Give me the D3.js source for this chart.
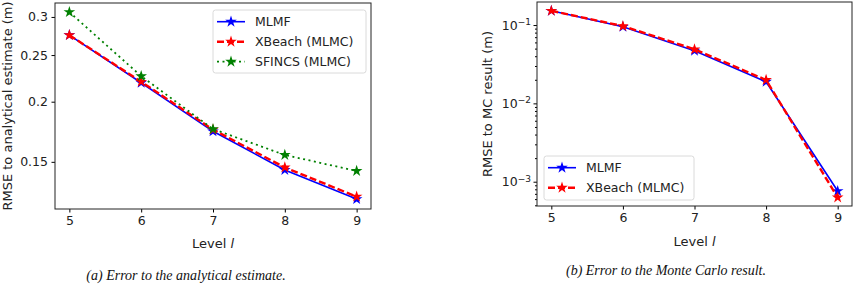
<!DOCTYPE html>
<html>
<head>
<meta charset="utf-8">
<script src="https://cdn.jsdelivr.net/npm/d3@7"></script>
<style>
  body { margin: 0; background: #fff; }
  svg { display: block; }
  .tick text { font-family: "DejaVu Sans", sans-serif; font-size: 12.5px; fill: #222; }
  .label { font-family: "DejaVu Sans", sans-serif; font-size: 12.5px; fill: #222; }
  .axlabel { font-family: "DejaVu Sans", sans-serif; font-size: 13px; fill: #222; }
  .caption { font-family: "Liberation Serif", serif; font-style: italic; font-size: 14px; fill: #111; }
</style>
</head>
<body>
<div class="chart"></div>
<script>
const svgWidth = 854;
const svgHeight = 284;

// data
const levels = [5, 6, 7, 8, 9];
const leftYTicks = [0.15, 0.2, 0.25, 0.3];
const rightYTicks = [1e-3, 1e-2, 1e-1];
const mlmfA = [0.275, 0.219, 0.1736, 0.1443, 0.1255];
const xbeachA = [0.275, 0.220, 0.175, 0.146, 0.127];
const sfincsA = [0.307, 0.226, 0.1755, 0.155, 0.1436];
const mlmfB = [0.152, 0.095, 0.047, 0.0189, 0.00076];
const xbeachB = [0.152, 0.097, 0.049, 0.0199, 0.00063];

const svg = d3.select(".chart")
    .append("svg")
    .attr("width", svgWidth)
    .attr("height", svgHeight);

const star = d3.symbol().type(d3.symbolStar).size(42);

function drawSeries(g, x, y, vals, color, dash, width) {
    const line = d3.line()
        .x((_, i) => x(levels[i]))
        .y(d => y(d));
    g.append("path")
        .datum(vals)
        .attr("d", line)
        .attr("fill", "none")
        .attr("stroke", color)
        .attr("stroke-width", width)
        .attr("stroke-dasharray", dash);
    g.selectAll(null)
        .data(vals)
        .enter()
        .append("path")
        .attr("d", star)
        .attr("transform", (d, i) => `translate(${x(levels[i])},${y(d)})`)
        .attr("fill", color);
}

function legend(g, x0, y0, w, h, items) {
    g.append("rect")
        .attr("x", x0).attr("y", y0)
        .attr("width", w).attr("height", h)
        .attr("rx", 2.5)
        .attr("fill", "white").attr("fill-opacity", 0.8)
        .attr("stroke", "#d0d0d0").attr("stroke-width", 0.8);
    items.forEach((it, i) => {
        const cy = y0 + 11.7 + i * 20;
        g.append("line")
            .attr("x1", x0 + 4).attr("x2", x0 + 32)
            .attr("y1", cy).attr("y2", cy)
            .attr("stroke", it.color)
            .attr("stroke-width", it.width)
            .attr("stroke-dasharray", it.dash);
        g.append("path")
            .attr("d", star)
            .attr("transform", `translate(${x0 + 18},${cy})`)
            .attr("fill", it.color);
        g.append("text")
            .attr("class", "label")
            .attr("x", x0 + 42).attr("y", cy)
            .attr("dy", "0.35em")
            .text(it.name);
    });
}

function frame(g, left, top, right, bottom) {
    g.append("rect")
        .attr("x", left).attr("y", top)
        .attr("width", right - left).attr("height", bottom - top)
        .attr("fill", "none")
        .attr("stroke", "#222").attr("stroke-width", 1);
}

function xLabel(g, cx, y) {
    const t = g.append("text")
        .attr("class", "axlabel")
        .attr("x", cx).attr("y", y)
        .attr("text-anchor", "middle");
    t.append("tspan").text("Level ");
    t.append("tspan").style("font-style", "italic").text("l");
}

// ---- (a) analytical estimate
const A = { left: 55, top: 3, right: 371, bottom: 209 };
const xA = d3.scaleLinear().domain([4.8, 9.2]).range([A.left, A.right]);
const yA = d3.scaleLog().domain([0.1197, 0.3207]).range([A.bottom, A.top]);
const gA = svg.append("g");

gA.append("g")
    .attr("transform", `translate(0,${A.bottom})`)
    .call(d3.axisBottom(xA).tickValues(levels).tickFormat(d3.format("d")).tickSize(3.5).tickPadding(3.5))
    .call(s => s.select(".domain").remove());
gA.append("g")
    .attr("transform", `translate(${A.left},0)`)
    .call(d3.axisLeft(yA).tickValues(leftYTicks).tickFormat(d => String(d)).tickSize(3.5).tickPadding(3.5))
    .call(s => s.select(".domain").remove());

drawSeries(gA, xA, yA, mlmfA, "#0000ff", null, 1.6);
drawSeries(gA, xA, yA, xbeachA, "#ff0000", "7,3", 2.4);
drawSeries(gA, xA, yA, sfincsA, "#008000", "2,3.5", 1.8);
frame(gA, A.left, A.top, A.right, A.bottom);

legend(gA, 213, 10, 153, 63, [
    { name: "MLMF", color: "#0000ff", dash: null, width: 1.6 },
    { name: "XBeach (MLMC)", color: "#ff0000", dash: "7,3", width: 2.4 },
    { name: "SFINCS (MLMC)", color: "#008000", dash: "2,3.5", width: 1.8 }
]);

gA.append("text")
    .attr("class", "axlabel")
    .attr("transform", `translate(12,${(A.top + A.bottom) / 2}) rotate(-90)`)
    .attr("text-anchor", "middle")
    .text("RMSE to analytical estimate (m)");
xLabel(gA, (A.left + A.right) / 2, 248);

svg.append("text")
    .attr("class", "caption")
    .attr("x", 186).attr("y", 280)
    .attr("text-anchor", "middle")
    .text("(a) Error to the analytical estimate.");

// ---- (b) Monte Carlo result
const B = { left: 537, top: 2, right: 852, bottom: 206 };
const xB = d3.scaleLinear().domain([4.8, 9.2]).range([B.left, B.right]);
const yB = d3.scaleLog().domain([Math.pow(10, -3.31), Math.pow(10, -0.706)]).range([B.bottom, B.top]);
const gB = svg.append("g");

gB.append("g")
    .attr("transform", `translate(0,${B.bottom})`)
    .call(d3.axisBottom(xB).tickValues(levels).tickFormat(d3.format("d")).tickSize(3.5).tickPadding(3.5))
    .call(s => s.select(".domain").remove());

const minorB = yB.ticks().filter(d => !rightYTicks.includes(d));
gB.append("g")
    .attr("transform", `translate(${B.left},0)`)
    .call(d3.axisLeft(yB).tickValues(minorB).tickFormat("").tickSize(2))
    .call(s => s.select(".domain").remove());
const yAxisB = gB.append("g")
    .attr("transform", `translate(${B.left},0)`)
    .call(d3.axisLeft(yB).tickValues(rightYTicks).tickFormat("").tickSize(3.5))
    .call(s => s.select(".domain").remove());
yAxisB.selectAll(".tick").each(function (d) {
    const t = d3.select(this).append("text")
        .attr("x", -6).attr("dy", "0.32em")
        .attr("text-anchor", "end")
        .attr("fill", "#222");
    t.append("tspan").text("10");
    t.append("tspan")
        .attr("dy", "-0.5em")
        .style("font-size", "9px")
        .text("\u2212" + Math.round(-Math.log10(d)));
});

drawSeries(gB, xB, yB, mlmfB, "#0000ff", null, 1.6);
drawSeries(gB, xB, yB, xbeachB, "#ff0000", "7,3", 2.4);
frame(gB, B.left, B.top, B.right, B.bottom);

legend(gB, 544, 156, 150, 44, [
    { name: "MLMF", color: "#0000ff", dash: null, width: 1.6 },
    { name: "XBeach (MLMC)", color: "#ff0000", dash: "7,3", width: 2.4 }
]);

gB.append("text")
    .attr("class", "axlabel")
    .attr("transform", `translate(492,${(B.top + B.bottom) / 2}) rotate(-90)`)
    .attr("text-anchor", "middle")
    .text("RMSE to MC result (m)");
xLabel(gB, (B.left + B.right) / 2, 246);

svg.append("text")
    .attr("class", "caption")
    .attr("x", 666).attr("y", 275)
    .attr("text-anchor", "middle")
    .text("(b) Error to the Monte Carlo result.");
</script>
</body>
</html>
